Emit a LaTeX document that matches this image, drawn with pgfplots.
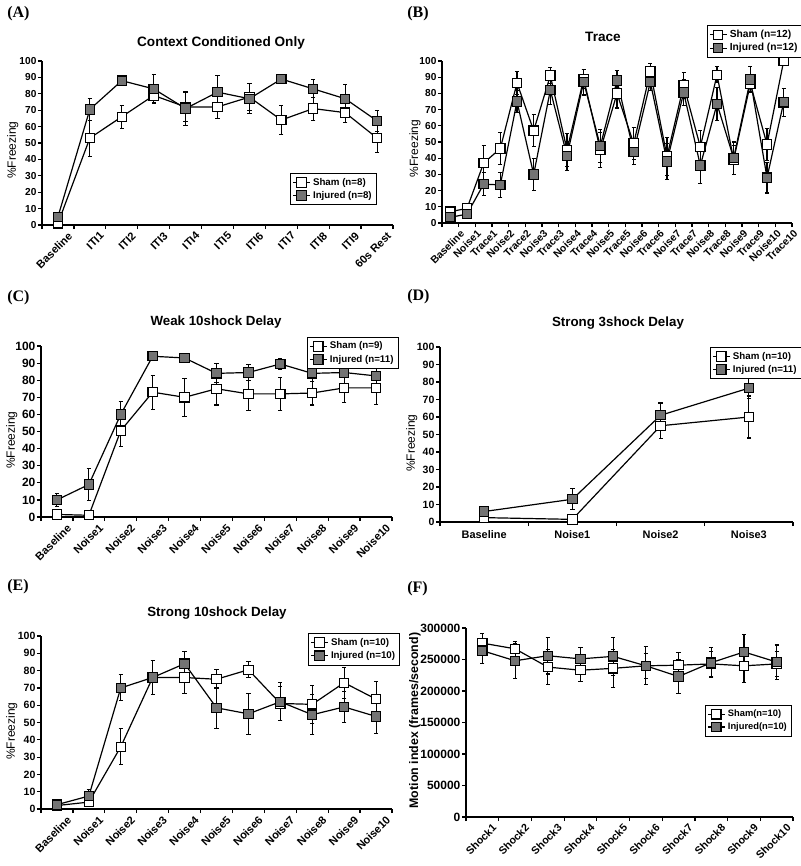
\documentclass[border=0pt]{standalone}
\usepackage{fontspec}
\setmainfont{Liberation Sans}
\newfontfamily\serifb{Liberation Serif}
\usepackage{pgfplots}
\pgfplotsset{compat=1.18}
\definecolor{injgray}{gray}{0.45}
\newcommand\fs[1]{\fontsize{#1}{#1}\selectfont}
\pgfplotsset{
 panel/.style={
  scale only axis, anchor=south west,
  axis x line*=bottom, axis y line*=left,
  axis line style={-, line width=0.9pt},
  tick align=outside, major tick length=3pt,
  tick style={black, line width=0.9pt},
  /pgf/number format/assume math mode=true,
  ymin=0, ymax=100, ytick={0,10,...,100},
  x tick label as interval,
  yticklabel style={font=\bfseries\fs{7.6}, inner sep=1pt},
  ylabel={\%Freezing},
  ylabel style={font=\fs{9}, anchor=center},
  legend cell align=left,
  legend style={draw=black, line width=0.5pt, font=\bfseries\fs{7.3}, inner sep=1.5pt, row sep=-1pt, anchor=north west},
  legend image code/.code={\draw[mark repeat=2, mark phase=2, #1] plot coordinates {(0cm,0cm) (0.22cm,0cm) (0.44cm,0cm)};},
  clip=false,
 },
 rot/.style={xticklabel style={font=\bfseries\fs{#1}, xshift=7pt, rotate=45, anchor=north east, inner sep=1pt}},
 sham/.style={black, line width=0.9pt, mark=square*, mark size=3.5pt, mark options={fill=white, solid, line width=0.8pt},
   error bars/.cd, y dir=both, y explicit, error bar style={line width=0.8pt, black}, error mark options={rotate=90, mark size=1.6pt, line width=0.8pt, black}},
 inj/.style={black, line width=0.9pt, mark=square*, mark size=3.5pt, mark options={fill=injgray, solid, line width=0.8pt},
   error bars/.cd, y dir=both, y explicit, error bar style={line width=0.8pt, black}, error mark options={rotate=90, mark size=1.6pt, line width=0.8pt, black}},
}
\begin{document}
\begin{tikzpicture}
\path[use as bounding box] (0,0) rectangle (600pt,-649.5pt);

% ---------- (A)
\begin{axis}[panel, rot=8.3, at={(42*0.75pt,-225*0.75pt)}, width=351*0.75pt, height=164*0.75pt,
  xmin=-0.5, xmax=10.5, xtick={-0.5,0.5,...,10.5},
  xticklabels={Baseline,ITI1,ITI2,ITI3,ITI4,ITI5,ITI6,ITI7,ITI8,ITI9,60s Rest},
  ylabel style={at={(axis description cs:-0.083,0.457)}},
  legend style={at={(0.707,0.317)}}]
\addplot[sham] table[x=x,y=y,y error=e] {
x y e
0 1 1
1 53 11
2 66 7
3 79 5
4 72 9
5 72 7
6 78 8
7 64 9
8 71 7
9 68.5 6
10 53 9
};
\addlegendentry{Sham (n=8)}
\addplot[inj] table[x=x,y=y,y error=e] {
x y e
0 5 2
1 70.5 6.5
2 88 1.5
3 83 8.5
4 71 10.5
5 81 10
6 77 9
7 89 3
8 83 5.5
9 77 8.5
10 63.5 6.5
};
\addlegendentry{Injured (n=8)}
\end{axis}

% ---------- (B)
\begin{axis}[panel, rot=7.8, at={(442*0.75pt,-223*0.75pt)}, width=350*0.75pt, height=162*0.75pt,
  xmin=-0.5, xmax=20.5, xtick={-0.5,0.5,...,20.5},
  xticklabels={Baseline,Noise1,Trace1,Noise2,Trace2,Noise3,Trace3,Noise4,Trace4,Noise5,Trace5,Noise6,Trace6,Noise7,Trace7,Noise8,Trace8,Noise9,Trace9,Noise10,Trace10},
  ylabel style={at={(axis description cs:-0.077,0.46)}},
  legend style={at={(0.757,1.222)}, font=\bfseries\fs{7.7}}]
\addplot[sham] table[x=x,y=y,y error=e] {
x y e
0 7 1
1 9 1
2 37 11
3 46 10
4 86.5 7
5 57 10
6 91 5
7 45 10
8 89 6
9 45 11
10 80 9
11 49 10
12 93.5 5
13 41 11.5
14 85 8
15 47 10
16 91.5 5
17 39 9
18 86 5
19 48.5 10
20 100 0
};
\addlegendentry{Sham (n=12)}
\addplot[inj] table[x=x,y=y,y error=e] {
x y e
0 3.5 1
1 5.5 1
2 24 7
3 23.5 7.5
4 75 7
5 30 10
6 82 9
7 41.5 9
8 87 8
9 47.5 10
10 88 6
11 44 8
12 87 5
13 38 11
14 80.5 8
15 35.5 11
16 73.5 10
17 40 10
18 88.5 8
19 28 9.5
20 74.5 8.5
};
\addlegendentry{Injured (n=12)}
\end{axis}

% ---------- (C)
\begin{axis}[panel, rot=8.3, at={(41*0.75pt,-517*0.75pt)}, width=351*0.75pt, height=171*0.75pt,
  xmin=-0.5, xmax=10.5, xtick={-0.5,0.5,...,10.5},
  xticklabels={Baseline,Noise1,Noise2,Noise3,Noise4,Noise5,Noise6,Noise7,Noise8,Noise9,Noise10},
  yticklabel style={font=\bfseries\fs{9}},
  ylabel style={at={(axis description cs:-0.083,0.45)}},
  legend style={at={(0.758,1.053)}}]
\addplot[sham] table[x=x,y=y,y error=e] {
x y e
0 1.5 1
1 1 0.5
2 50.5 9
3 73 10
4 70 11
5 75 9.5
6 72 9.5
7 72 9.5
8 72.5 7
9 75.5 8.5
10 75.5 9.5
};
\addlegendentry{Sham (n=9)}
\addplot[inj] table[x=x,y=y,y error=e] {
x y e
0 10 4
1 19 9.5
2 60 7.5
3 94 1
4 93 1
5 84 5.5
6 84.5 4.5
7 89.5 3
8 84 4.5
9 84.5 8
10 82.5 7
};
\addlegendentry{Injured (n=11)}
\end{axis}

% ---------- (D)
\begin{axis}[panel, at={(440*0.75pt,-522*0.75pt)}, width=353*0.75pt, height=175*0.75pt,
  xmin=-0.5, xmax=3.5, xtick={-0.5,0.5,...,3.5},
  xticklabels={Baseline,Noise1,Noise2,Noise3},
  xticklabel style={anchor=north, font=\bfseries\fs{8.2}, inner sep=3pt},
  yticklabel style={font=\bfseries\fs{7.9}},
  ylabel style={at={(axis description cs:-0.08,0.45)}},
  legend style={at={(0.765,1.0)}}]
\addplot[sham] table[x=x,y=y,y error=e] {
x y e
0 2.5 1
1 1.5 1
2 55 7.5
3 60 12
};
\addlegendentry{Sham (n=10)}
\addplot[inj] table[x=x,y=y,y error=e] {
x y e
0 6 1
1 13 6
2 61 7
3 76.5 6
};
\addlegendentry{Injured (n=11)}
\end{axis}

% ---------- (E)
\begin{axis}[panel, rot=8.3, at={(41*0.75pt,-809*0.75pt)}, width=351*0.75pt, height=173*0.75pt,
  xmin=-0.5, xmax=10.5, xtick={-0.5,0.5,...,10.5},
  xticklabels={Baseline,Noise1,Noise2,Noise3,Noise4,Noise5,Noise6,Noise7,Noise8,Noise9,Noise10},
  yticklabel style={font=\bfseries\fs{7.9}},
  ylabel style={at={(axis description cs:-0.083,0.45)}},
  legend style={at={(0.761,1.017)}}]
\addplot[sham] table[x=x,y=y,y error=e] {
x y e
0 2 0.5
1 4 1
2 36 10.5
3 76 10
4 76 9.5
5 75 5.5
6 80.5 4.5
7 61 10
8 60.5 11
9 73 9
10 63.5 10
};
\addlegendentry{Sham (n=10)}
\addplot[inj] table[x=x,y=y,y error=e] {
x y e
0 2.5 0.5
1 7.5 4
2 70 7.5
3 76 10
4 84 7
5 58.5 12
6 55 12
7 62 11
8 54.5 11.5
9 59 9
10 53.5 10
};
\addlegendentry{Injured (n=10)}
\end{axis}

% ---------- (F)
\begin{axis}[panel, rot=8, at={(466*0.75pt,-817*0.75pt)}, width=327*0.75pt, height=189*0.75pt,
  xmin=-0.5, xmax=9.5, xtick={-0.5,0.5,...,9.5},
  xticklabels={Shock1,Shock2,Shock3,Shock4,Shock5,Shock6,Shock7,Shock8,Shock9,Shock10},
  ymin=0, ymax=300000, ytick={0,50000,...,300000},
  scaled y ticks=false,
  yticklabel={\pgfmathprintnumber[fixed,precision=0,1000 sep={}]{\tick}},
  yticklabel style={font=\bfseries\fs{9}},
  ylabel={Motion index (frames/second)},
  ylabel style={font=\bfseries\fs{9.3}, at={(axis description cs:-0.156,0.51)}},
  legend style={at={(0.731,0.593)}, font=\bfseries\fs{7}}]
\addplot[sham] table[x=x,y=y,y error=e] {
x y e
0 276000 15000
1 267000 12000
2 238000 28000
3 233000 18000
4 236000 30000
5 240000 20000
6 241000 20000
7 243000 20000
8 240000 27000
9 243000 20000
};
\addlegendentry{Sham(n=10)}
\addplot[inj] table[x=x,y=y,y error=e] {
x y e
0 264000 20000
1 248000 28000
2 256000 29000
3 251000 18000
4 255000 30000
5 240000 30000
6 223000 27000
7 245000 24000
8 262000 28000
9 246000 27000
};
\addlegendentry{Injured(n=10)}
\end{axis}

% ---------- titles and panel labels
\node[font=\bfseries\fs{10.2}] at (221*0.75pt,-43*0.75pt) {Context Conditioned Only};
\node[font=\bfseries\fs{10.2}] at (603*0.75pt,-37*0.75pt) {Trace};
\node[font=\bfseries\fs{10}] at (216*0.75pt,-322*0.75pt) {Weak 10shock Delay};
\node[font=\bfseries\fs{10}] at (618*0.75pt,-323*0.75pt) {Strong 3shock Delay};
\node[font=\bfseries\fs{10}] at (217*0.75pt,-613*0.75pt) {Strong 10shock Delay};
\foreach \l/\x/\y in {A/7/14, B/407/14, C/7/298, D/407/297, E/7/587, F/407/589}
  \node[anchor=west, inner sep=0pt, font=\serifb\bfseries\fs{12}] at (\x*0.75pt,-\y*0.75pt) {(\l)};
\end{tikzpicture}
\end{document}
